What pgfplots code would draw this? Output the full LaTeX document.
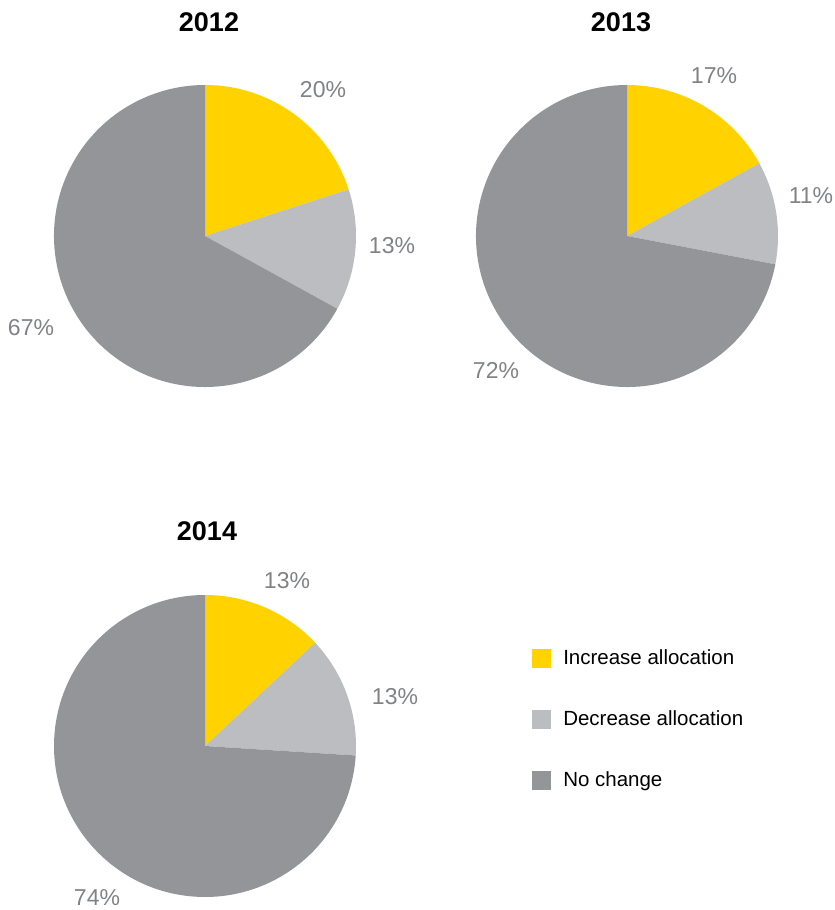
\documentclass[border=0pt]{standalone}
\usepackage{pgfplots}
\pgfplotsset{compat=1.18}
\usepackage{pgfplotstable}
\usepackage{fontspec}
\setmainfont{Liberation Sans}
\definecolor{eyyellow}{HTML}{FFD200}
\definecolor{eylight}{HTML}{BCBDC0}
\definecolor{eydark}{HTML}{939598}
\definecolor{lblgray}{HTML}{808285}

\pgfplotstableread{
year inc dec none
2012 20 13 67
2013 17 11 72
2014 13 13 74
}\piedata

\newcommand{\getvals}[1]{%
  \pgfplotstablegetelem{#1}{inc}\of\piedata \pgfmathsetmacro{\vInc}{\pgfplotsretval}%
  \pgfplotstablegetelem{#1}{dec}\of\piedata \pgfmathsetmacro{\vDec}{\pgfplotsretval}%
  \pgfplotstablegetelem{#1}{none}\of\piedata \pgfmathsetmacro{\vNone}{\pgfplotsretval}%
  \pgfmathsetmacro{\aA}{90-3.6*\vInc}%
  \pgfmathsetmacro{\aB}{\aA-3.6*\vDec}%
  \pgfmathsetmacro{\aC}{\aB-3.6*\vNone}%
}
\newcommand{\wedges}{%
  \fill[eyyellow] (axis cs:0,0) -- (axis cs:0,1) arc[start angle=90, end angle=\aA, radius=151pt] -- cycle;
  \fill[eylight] (axis cs:0,0) -- (axis cs:{cos(\aA)},{sin(\aA)}) arc[start angle=\aA, end angle=\aB, radius=151pt] -- cycle;
  \fill[eydark] (axis cs:0,0) -- (axis cs:{cos(\aB)},{sin(\aB)}) arc[start angle=\aB, end angle=\aC, radius=151pt] -- cycle;
}
\pgfplotsset{pieaxis/.style={x=151pt, y=151pt, xmin=-1, xmax=1, ymin=-1, ymax=1,
  hide axis, clip=false, anchor=center}}

\begin{document}
\begin{tikzpicture}[x=1pt,y=1pt]
\path[use as bounding box] (0,0) rectangle (835,910);

\getvals{0}
\begin{axis}[pieaxis, at={(205pt,674pt)}]
\wedges
\end{axis}

\getvals{1}
\begin{axis}[pieaxis, at={(627pt,674pt)}]
\wedges
\end{axis}

\getvals{2}
\begin{axis}[pieaxis, at={(205pt,164pt)},
  legend style={at={(axis cs:2.166,0.785)}, anchor=north west, draw=none, fill=none,
    inner sep=0pt, row sep=0pt, font=\fontsize{20.5}{24}\selectfont,
    nodes={inner sep=0pt, anchor=west}},
  legend cell align=left]
\wedges
\addlegendimage{legend image code/.code={\fill[eyyellow, draw=none] (0pt,-9.5pt) rectangle (19pt,9.5pt); \path[draw=none, fill=none] (0pt,-30.5pt) rectangle (31pt,30.5pt);}}
\addlegendentry{Increase allocation}
\addlegendimage{legend image code/.code={\fill[eylight, draw=none] (0pt,-9.5pt) rectangle (19pt,9.5pt); \path[draw=none, fill=none] (0pt,-30.5pt) rectangle (31pt,30.5pt);}}
\addlegendentry{Decrease allocation}
\addlegendimage{legend image code/.code={\fill[eydark, draw=none] (0pt,-9.5pt) rectangle (19pt,9.5pt); \path[draw=none, fill=none] (0pt,-30.5pt) rectangle (31pt,30.5pt);}}
\addlegendentry{No change}
\end{axis}

% titles
\begin{scope}[every node/.style={font=\fontsize{27}{30}\selectfont\bfseries}]
\node at (209,888) {2012};
\node at (621,888) {2013};
\node at (207,379) {2014};
\end{scope}

% value labels
\begin{scope}[every node/.style={text=lblgray, font=\fontsize{23}{26}\selectfont}]
\node at (323,820) {20\%};
\node at (392,664) {13\%};
\node at (31,582) {67\%};
\node at (714,834) {17\%};
\node at (811,714) {11\%};
\node at (496,539) {72\%};
\node at (287,329) {13\%};
\node at (395,213) {13\%};
\node at (97,12) {74\%};
\end{scope}
\end{tikzpicture}
\end{document}
